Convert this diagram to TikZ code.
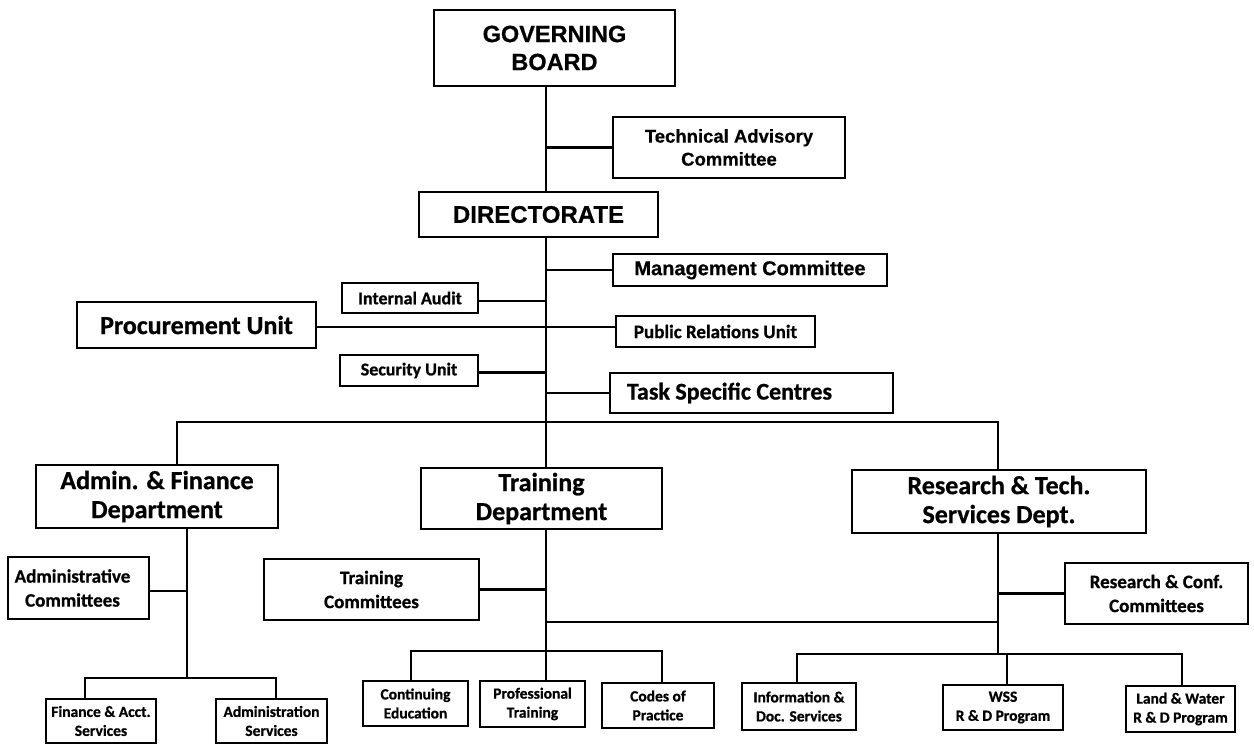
\documentclass[tikz,border=0pt]{standalone}
\usepackage{fontspec}
\setmainfont{Carlito}[BoldFeatures={FakeBold=0.8}]
\newfontfamily\arialfont{Liberation Sans}[BoldFeatures={FakeBold=0.6}]
\begin{document}
\begin{tikzpicture}[x=1pt,y=-1pt,
  box/.style={draw, line width=2.8pt, inner sep=0pt, outer sep=0pt, align=center, fill=white},
  sz/.style n args={2}{minimum width=#1pt, minimum height=#2pt},
  link/.style={line width=2.6pt},
  topfont/.style={font=\arialfont\bfseries\fontsize{23.5}{28}\selectfont},
  arfont/.style={font=\arialfont\bfseries\fontsize{18.5}{23}\selectfont},
  deptfont/.style={font=\bfseries\fontsize{26}{29}\selectfont},
  midfont/.style={font=\bfseries\fontsize{19}{24}\selectfont},
  smallfont/.style={font=\bfseries\fontsize{15.5}{19}\selectfont}]
\useasboundingbox (0,0) rectangle (1254,744);

% vertical spines
\coordinate (spine) at (546,0);
\coordinate (afdspine) at (187,0);
\coordinate (rtdspine) at (998,0);
% horizontal buses
\coordinate (bus) at (0,422);
\coordinate (afdbus) at (0,678);
\coordinate (tdbus) at (0,651);
\coordinate (cross) at (0,622);
\coordinate (rtdbus) at (0,654);

% top levels
\node[box, topfont, sz={241}{76}] (gb) at (554.5,48) {GOVERNING\\BOARD};
\node[box, arfont, sz={232}{61}] (tac) at (729,147.5) {Technical Advisory\\Committee};
\node[box, font=\arialfont\bfseries\fontsize{24}{28}\selectfont, sz={239}{45}] (dir) at (538.5,214.5) {DIRECTORATE};
\node[box, font=\arialfont\bfseries\fontsize{20}{24}\selectfont, sz={274}{32}] (mc) at (750,270) {Management Committee};
\node[box, font=\bfseries\fontsize{18}{22}\selectfont, sz={136}{30}] (ia) at (410,298) {Internal Audit};
\node[box, font=\bfseries\fontsize{26}{30}\selectfont, sz={239}{46}] (pu) at (196.5,325) {Procurement Unit};
\node[box, font=\bfseries\fontsize{19}{23}\selectfont, sz={199}{31}] (pr) at (715.5,331.5) {Public Relations Unit};
\node[box, font=\bfseries\fontsize{18}{22}\selectfont, sz={138}{31}] (su) at (409,370.5) {Security Unit};
\node[box, font=\bfseries\fontsize{24}{28}\selectfont, sz={283}{40}] (tsc) at (751.5,393) {Task Specific Centres\hspace*{44pt}};

% departments
\node[box, deptfont, sz={242}{63}] (afd) at (157,496.5) {Admin. \& Finance\\Department};
\node[box, deptfont, sz={241}{61}] (td) at (541.5,498.5) {Training\\Department};
\node[box, deptfont, sz={294}{63}] (rtd) at (999,501.5) {Research \& Tech.\\Services Dept.};

% committees
\node[box, midfont, sz={141}{62}] (ac) at (78.5,588) {Administrative\hspace*{12pt}\\Committees\hspace*{12pt}};
\node[box, midfont, sz={215}{61}] (tc) at (371.5,589.5) {Training\\Committees};
\node[box, midfont, sz={183}{61}] (rcc) at (1156.5,593.5) {Research \& Conf.\\Committees};

% sections
\node[box, smallfont, sz={110}{44}] (fas) at (101,721) {Finance \& Acct.\\Services};
\node[box, smallfont, sz={111}{44}] (as) at (271.5,721) {Administration\\Services};
\node[box, smallfont, sz={105}{45}] (ce) at (415.5,703.5) {Continuing\\Education};
\node[box, smallfont, sz={105}{46}] (pt) at (532.5,704) {Professional\\Training};
\node[box, smallfont, sz={112}{45}] (cp) at (658,705.5) {Codes of\\Practice};
\node[box, smallfont, sz={114}{47}] (ids) at (799,706.5) {Information \&\\Doc. Services};
\node[box, smallfont, sz={120}{45}] (wss) at (1003,707.5) {WSS\\R \& D Program};
\node[box, smallfont, sz={109}{46}] (lw) at (1180.5,709) {Land \& Water\\R \& D Program};

% main spine
\draw[link] (gb.south -| spine) -- (dir.north -| spine);
\draw[link] (dir.south -| spine) -- (td.north -| spine);
\draw[link] (tac.west) -- (tac.west -| spine);
\draw[link] (mc.west) -- (mc.west -| spine);
\draw[link] ([yshift=-3pt]ia.east) -- ([yshift=-3pt]ia.east -| spine);
\draw[link] ([yshift=-2pt]pu.east) -- ([yshift=-2pt]pu.east -| pr.west);
\draw[link] ([yshift=-2pt]su.east) -- ([yshift=-2pt]su.east -| spine);
\draw[link] (tsc.west) -- (tsc.west -| spine);

% department bus
\draw[link] ([xshift=20pt]afd.north) -- ([xshift=20pt]afd.north |- bus) -- (rtdspine |- bus) -- (rtd.north -| rtdspine);

% admin & finance branch
\draw[link] (afd.south -| afdspine) -- (afdspine |- afdbus);
\draw[link] ([yshift=-3pt]ac.east) -- ([yshift=-3pt]ac.east -| afdspine);
\draw[link] ([xshift=-16pt]fas.north) -- ([xshift=-16pt]fas.north |- afdbus)
  -- ([xshift=4.5pt]as.north |- afdbus) -- ([xshift=4.5pt]as.north);

% training branch
\draw[link] (td.south -| spine) -- (pt.north -| spine);
\draw[link] (tc.east) -- (tc.east -| spine);
\draw[link] (spine |- cross) -- (rtdspine |- cross);
\draw[link] ([xshift=-4.5pt]ce.north) -- ([xshift=-4.5pt]ce.north |- tdbus)
  -- ([xshift=4pt]cp.north |- tdbus) -- ([xshift=4pt]cp.north);

% research branch
\draw[link] (rtd.south -| rtdspine) -- (rtdspine |- rtdbus);
\draw[link] (rcc.west) -- (rcc.west -| rtdspine);
\draw[link] ([xshift=-2pt]ids.north) -- ([xshift=-2pt]ids.north |- rtdbus)
  -- ([xshift=1.5pt]lw.north |- rtdbus) -- ([xshift=1.5pt]lw.north);
\draw[link] ([xshift=4pt]wss.north) -- ([xshift=4pt]wss.north |- rtdbus);
\end{tikzpicture}
\end{document}
